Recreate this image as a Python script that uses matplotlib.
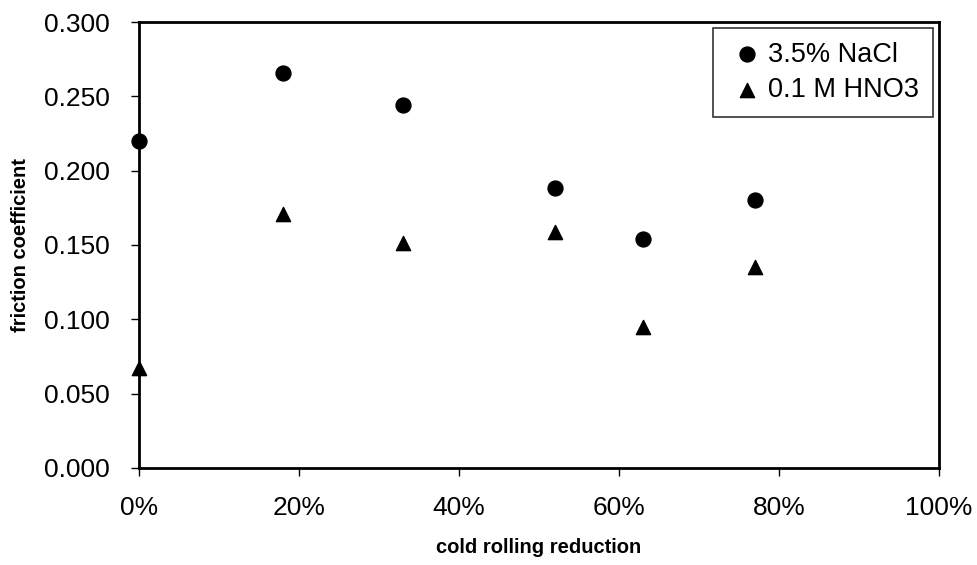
import matplotlib.pyplot as plt
from matplotlib.ticker import FuncFormatter

plt.rcParams['font.family'] = ['Liberation Sans', 'DejaVu Sans']

reduction = [0, 18, 33, 52, 63, 77]
nacl = [0.220, 0.266, 0.244, 0.188, 0.154, 0.180]
hno3 = [0.067, 0.171, 0.151, 0.159, 0.095, 0.135]

fig = plt.figure(figsize=(9.78, 5.65), dpi=100)
ax = fig.add_axes([0.142, 0.172, 0.818, 0.789])

ax.scatter(reduction, nacl, marker='o', s=115, color='black', label='3.5% NaCl', clip_on=False, zorder=3)
ax.scatter(reduction, hno3, marker='^', s=105, color='black', label='0.1 M HNO3', clip_on=False, zorder=3)

ax.set_xlim(0, 100)
ax.set_ylim(0, 0.3)
ax.set_xticks(range(0, 101, 20))
ax.set_yticks([0, 0.05, 0.1, 0.15, 0.2, 0.25, 0.3])
ax.xaxis.set_major_formatter(FuncFormatter(lambda v, p: f'{v:.0f}%'))
ax.yaxis.set_major_formatter(FuncFormatter(lambda v, p: f'{v:.3f}'))
ax.tick_params(direction='out', length=6, width=1, labelsize=19)
ax.tick_params(axis='y', pad=15)
ax.tick_params(axis='x', pad=14)

for s in ax.spines.values():
    s.set_linewidth(2)

ax.set_xlabel('cold rolling reduction', fontsize=14.5, fontweight='bold', labelpad=13)
ax.set_ylabel('friction coefficient', fontsize=14.5, fontweight='bold', labelpad=10)

leg = ax.legend(loc='upper right', fontsize=19.5, frameon=True, fancybox=False,
                edgecolor='black', handlelength=1.5, handletextpad=0.05,
                borderpad=0.5, labelspacing=0.35, borderaxespad=0,
                bbox_to_anchor=(0.9925, 0.9865))
leg.get_frame().set_linewidth(1.2)

fig.savefig('out.png', dpi=100)
